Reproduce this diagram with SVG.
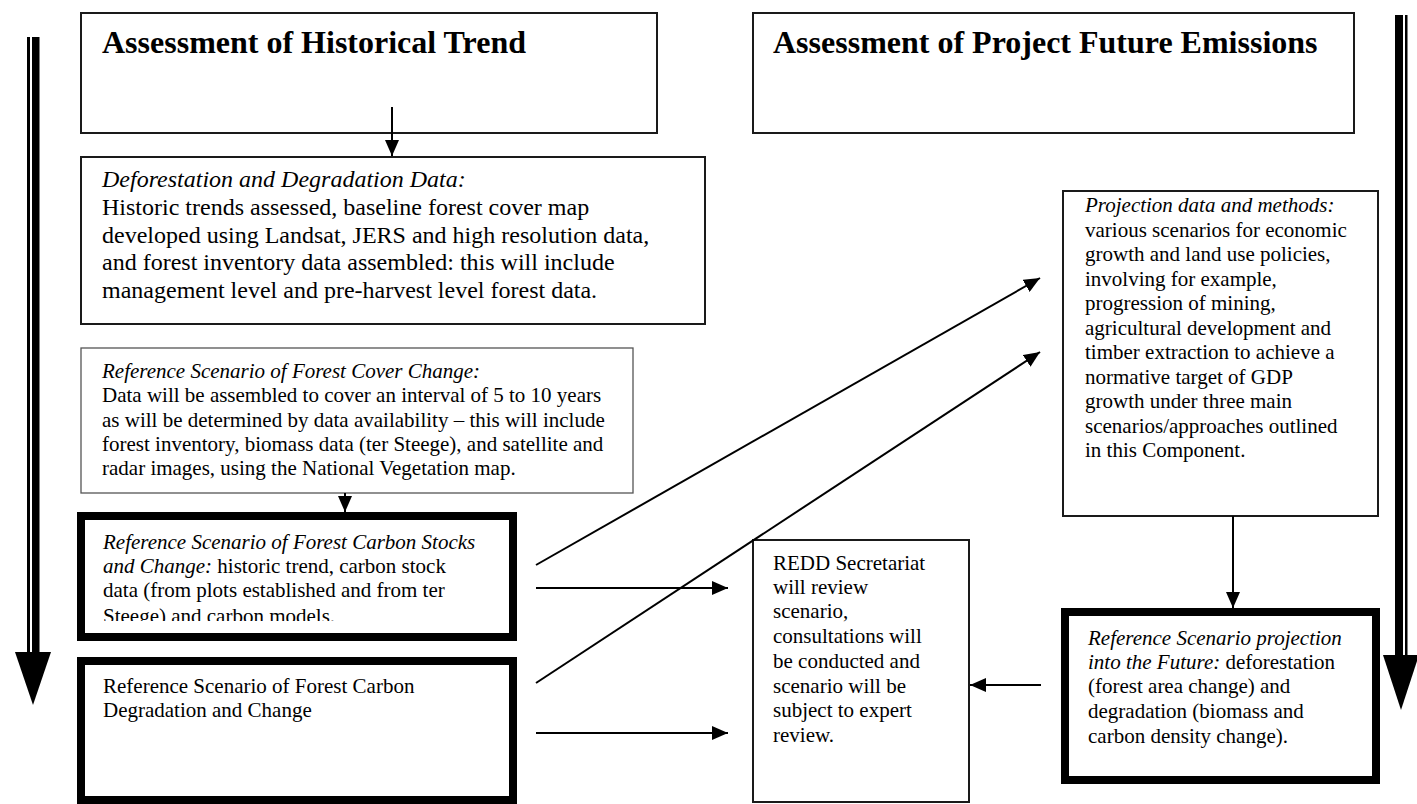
<svg xmlns="http://www.w3.org/2000/svg" width="1417" height="804" viewBox="0 0 1417 804">
<style>
text{font-family:"Liberation Serif","Times New Roman",serif;fill:#000}
.t{font-size:32px;font-weight:bold}
.b24{font-size:24px}
.b21{font-size:21px}
.i{font-style:italic}
.box{fill:#fff;stroke:#1a1a1a;stroke-width:2}
.thin{fill:#fff;stroke:#555;stroke-width:1.3}
.thick{fill:#fff;stroke:#000;stroke-width:8}
.con{stroke:#000;stroke-width:2;fill:none}
</style>
<defs>
<marker id="ah" markerWidth="16" markerHeight="14" refX="16" refY="7" orient="auto" markerUnits="userSpaceOnUse"><path d="M0,0 L16,7 L0,14 z" fill="#000"/></marker>
<clipPath id="clip1"><rect x="85" y="520" width="424" height="101"/></clipPath>
</defs>

<g id="big-arrow-left">
<rect x="27" y="37" width="3" height="618" fill="#000"/>
<rect x="32" y="37" width="7.5" height="618" fill="#000"/>
<polygon points="15,652 51,652 33,705" fill="#000"/>
</g>
<g id="big-arrow-right">
<rect x="1395" y="15" width="8" height="640" fill="#000"/>
<rect x="1405" y="15" width="2.5" height="640" fill="#000"/>
<polygon points="1383,655 1419,655 1401,710" fill="#000"/>
</g>

<g id="node-historical">
<rect class="box" x="81" y="13" width="576" height="120"/>
<text class="t" x="102" y="53">Assessment of Historical Trend</text>
</g>

<g id="node-future">
<rect class="box" x="753" y="13" width="601" height="120"/>
<text class="t" x="773" y="53">Assessment of Project Future Emissions</text>
</g>

<g id="node-deforestation">
<rect class="box" x="81" y="157" width="624" height="167"/>
<text class="b24 i" x="102" y="187">Deforestation and Degradation Data:</text>
<text class="b24" x="102" y="215">Historic trends assessed, baseline forest cover map</text>
<text class="b24" x="102" y="243">developed using Landsat, JERS and high resolution data,</text>
<text class="b24" x="102" y="270">and forest inventory data assembled: this will include</text>
<text class="b24" x="102" y="298">management level and pre-harvest level forest data.</text>
</g>

<g id="node-cover-change">
<rect class="thin" x="81" y="348" width="552" height="145"/>
<text class="b21 i" x="102" y="378">Reference Scenario of Forest Cover Change:</text>
<text class="b21" x="102" y="402">Data will be assembled to cover an interval of 5 to 10 years</text>
<text class="b21" x="102" y="427">as will be determined by data availability – this will include</text>
<text class="b21" x="102" y="451">forest inventory, biomass data (ter Steege), and satellite and</text>
<text class="b21" x="102" y="475">radar images, using the National Vegetation map.</text>
</g>

<g id="node-carbon-stocks">
<rect class="thick" x="81" y="516" width="432" height="121"/>
<g clip-path="url(#clip1)">
<text class="b21 i" x="103" y="549">Reference Scenario of Forest Carbon Stocks</text>
<text class="b21" x="103" y="573"><tspan class="i">and Change:</tspan> historic trend, carbon stock</text>
<text class="b21" x="103" y="597">data (from plots established and from ter</text>
<text class="b21" x="103" y="623">Steege) and carbon models.</text>
</g>
</g>

<g id="node-carbon-degradation">
<rect class="thick" x="81" y="661" width="432" height="139"/>
<text class="b21" x="103" y="693">Reference Scenario of Forest Carbon</text>
<text class="b21" x="103" y="717">Degradation and Change</text>
</g>

<g id="node-redd">
<rect class="box" x="753" y="540" width="216" height="262"/>
<text class="b21" x="773" y="570">REDD Secretariat</text>
<text class="b21" x="773" y="594">will review</text>
<text class="b21" x="773" y="618">scenario,</text>
<text class="b21" x="773" y="643">consultations will</text>
<text class="b21" x="773" y="668">be conducted and</text>
<text class="b21" x="773" y="693">scenario will be</text>
<text class="b21" x="773" y="717">subject to expert</text>
<text class="b21" x="773" y="742">review.</text>
</g>

<g id="node-projection">
<rect class="box" x="1063" y="191" width="315" height="325"/>
<text class="b21 i" x="1085" y="212">Projection data and methods:</text>
<text class="b21" x="1085" y="236.5">various scenarios for economic</text>
<text class="b21" x="1085" y="261">growth and land use policies,</text>
<text class="b21" x="1085" y="285.5">involving for example,</text>
<text class="b21" x="1085" y="310">progression of mining,</text>
<text class="b21" x="1085" y="334.5">agricultural development and</text>
<text class="b21" x="1085" y="359">timber extraction to achieve a</text>
<text class="b21" x="1085" y="383.5">normative target of GDP</text>
<text class="b21" x="1085" y="408">growth under three main</text>
<text class="b21" x="1085" y="432.5">scenarios/approaches outlined</text>
<text class="b21" x="1085" y="457">in this Component.</text>
</g>

<g id="node-future-projection">
<rect class="thick" x="1065" y="612" width="311" height="168"/>
<text class="b21" x="1088" y="645"><tspan class="i">Reference Scenario projection</tspan></text>
<text class="b21" x="1088" y="669"><tspan class="i">into the Future:</tspan> deforestation</text>
<text class="b21" x="1088" y="693">(forest area change) and</text>
<text class="b21" x="1088" y="718">degradation (biomass and</text>
<text class="b21" x="1088" y="743">carbon density change).</text>
</g>

<g id="connectors">
<line class="con" x1="392" y1="107" x2="392" y2="156" marker-end="url(#ah)"/>
<line class="con" x1="345" y1="493" x2="345" y2="512" marker-end="url(#ah)"/>
<line class="con" x1="1233" y1="516" x2="1233" y2="608" marker-end="url(#ah)"/>
<line class="con" x1="536" y1="565" x2="1040" y2="278" marker-end="url(#ah)"/>
<line class="con" x1="536" y1="683" x2="1040" y2="352" marker-end="url(#ah)"/>
<line class="con" x1="536" y1="588" x2="728" y2="588" marker-end="url(#ah)"/>
<line class="con" x1="536" y1="733" x2="728" y2="733" marker-end="url(#ah)"/>
<line class="con" x1="1041" y1="685" x2="970" y2="685" marker-end="url(#ah)"/>
</g>
</svg>
